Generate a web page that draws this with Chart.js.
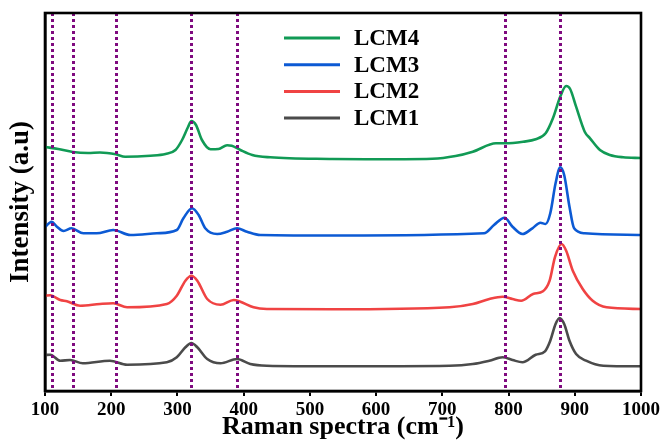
<!DOCTYPE html>
<html>
<head>
<meta charset="utf-8">
<script src="https://cdn.jsdelivr.net/npm/chart.js@4.4.1/dist/chart.umd.min.js"></script>
<style>
  html, body { margin: 0; padding: 0; background: #fff; }
  #wrap { width: 664px; height: 448px; }
</style>
</head>
<body>
<div id="wrap"><canvas id="ramanChart" width="664" height="448"></canvas></div>
<script>
// Raman shift (cm-1) and intensity (a.u., stacked offsets) for each sample
const lcm4Shift = [100, 120, 142, 165, 183, 207, 221, 259, 282, 297, 307, 316, 321, 328, 337, 350, 362, 375, 382, 395, 413, 440, 534, 584, 685, 720, 746, 781, 795, 822, 841, 856, 867, 878, 887, 893, 902, 915, 923, 938, 953, 973, 1000];
const lcm4Intensity = [244, 242, 239, 238, 238.5, 236.7, 234.3, 235.3, 237, 241, 251, 264, 270, 266, 251, 241.7, 242, 245.7, 245.3, 241, 236, 233.7, 232, 231.7, 232.3, 235, 239.3, 247.7, 247.7, 249.3, 251.7, 257.7, 272.7, 294.3, 305, 302, 284.3, 259.3, 252.7, 241, 236, 233.7, 233];

const lcm3Shift = [100, 110, 118, 128, 140, 158, 178, 203, 229, 269, 299, 309, 322, 332, 342, 360, 375, 390, 405, 425, 546, 763, 778, 794, 806, 821, 836, 848, 856, 863, 871, 878, 884, 892, 899, 915, 1000];
const lcm3Intensity = [164, 169.3, 164.3, 160, 162.7, 157.7, 157.7, 161, 156, 157.7, 161, 172.7, 182.7, 176, 162.7, 157, 159.3, 162.7, 159.3, 156, 155.5, 157.7, 166, 173.3, 164.3, 157, 162.7, 168.3, 167, 177.7, 207.7, 223.7, 216, 184.3, 162.7, 157.7, 156];

const lcm2Shift = [100, 108, 123, 133, 153, 183, 203, 224, 284, 299, 312, 321, 330, 345, 365, 385, 395, 415, 435, 534, 711, 746, 771, 791, 806, 819, 837, 852, 862, 870, 880, 887, 897, 912, 927, 948, 1000];
const lcm2Intensity = [95.3, 95.7, 91, 89.7, 85.3, 87, 87.7, 83.7, 87, 95.3, 110.3, 115.3, 110.3, 92, 86.3, 91, 89.3, 83.7, 82, 81.7, 83.7, 87, 92, 94.3, 92, 90.3, 97, 99.7, 110.3, 133.7, 147, 140.3, 120.3, 102, 90.3, 83.7, 82];

const lcm1Shift = [100, 108, 123, 138, 157, 198, 224, 284, 299, 312, 321, 330, 345, 365, 390, 410, 435, 534, 711, 746, 771, 791, 806, 821, 841, 855, 863, 871, 877, 884, 892, 902, 917, 943, 1000];
const lcm1Intensity = [36, 36.3, 30.3, 31, 27.7, 30.3, 26.3, 28.7, 33.7, 43.7, 48, 43.7, 32, 27.7, 32, 27, 25.3, 24.7, 25.3, 27, 30.3, 33.7, 31, 28.7, 36.3, 39.7, 50.3, 67, 73, 67, 50.3, 37, 30.3, 25.3, 24.7];

// band positions marked with dotted guide lines
const peakPositions = [110, 142, 207, 321, 390, 795, 878];

const serif = "'Times New Roman', 'Liberation Serif', serif";

function toPoints(xs, ys) {
    return xs.map((x, i) => ({ x: x, y: ys[i] }));
}

function series(label, xs, ys, color) {
    return {
        label: label,
        data: toPoints(xs, ys),
        borderColor: color,
        backgroundColor: color,
        borderWidth: 2.6,
        pointRadius: 0,
        cubicInterpolationMode: 'monotone',
        fill: false
    };
}

// dotted purple verticals at the band positions
const peakLines = {
    id: 'peakLines',
    afterDatasetsDraw(chart) {
        const { ctx, chartArea, scales } = chart;
        ctx.save();
        ctx.strokeStyle = '#7f0a7f';
        ctx.lineWidth = 3;
        ctx.setLineDash([3, 3]);
        peakPositions.forEach(p => {
            const x = Math.round(scales.x.getPixelForValue(p)) + 0.5;
            ctx.beginPath();
            ctx.moveTo(x, chartArea.top);
            ctx.lineTo(x, chartArea.bottom);
            ctx.stroke();
        });
        ctx.restore();
    }
};

// closed black frame around the plot
const frame = {
    id: 'frame',
    afterDraw(chart) {
        const { ctx, chartArea } = chart;
        ctx.save();
        ctx.strokeStyle = '#000';
        ctx.lineWidth = 2.6;
        ctx.strokeRect(chartArea.left, chartArea.top, chartArea.right - chartArea.left, chartArea.bottom - chartArea.top);
        ctx.restore();
    }
};

// legend stacked inside the plot, near the top centre
const innerLegend = {
    id: 'innerLegend',
    afterDraw(chart) {
        const { ctx } = chart;
        ctx.save();
        ctx.font = 'bold 23px ' + serif;
        ctx.textBaseline = 'middle';
        chart.data.datasets.forEach((ds, i) => {
            const y = 38 + i * 26.7;
            ctx.strokeStyle = ds.borderColor;
            ctx.lineWidth = 3;
            ctx.beginPath();
            ctx.moveTo(284, y);
            ctx.lineTo(340, y);
            ctx.stroke();
            ctx.fillStyle = '#000';
            ctx.fillText(ds.label, 354, y + 1);
        });
        ctx.restore();
    }
};

const ctx = document.getElementById('ramanChart').getContext('2d');
const ramanChart = new Chart(ctx, {
    type: 'line',
    data: {
        datasets: [
            series('LCM4', lcm4Shift, lcm4Intensity, '#119a55'),
            series('LCM3', lcm3Shift, lcm3Intensity, '#0c5ad4'),
            series('LCM2', lcm2Shift, lcm2Intensity, '#f04343'),
            series('LCM1', lcm1Shift, lcm1Intensity, '#4b4b4b')
        ]
    },
    options: {
        responsive: false,
        animation: false,
        layout: { padding: { top: 13, right: 23, left: 5, bottom: 0 } },
        plugins: {
            legend: { display: false },
            tooltip: { enabled: false }
        },
        scales: {
            x: {
                type: 'linear',
                min: 100,
                max: 1000,
                afterFit(scale) { scale.height = 57; },
                border: { display: true, color: '#000', width: 2.6 },
                grid: { display: true, drawOnChartArea: false, drawTicks: true, tickLength: 5, color: '#000', lineWidth: 2 },
                ticks: {
                    stepSize: 100,
                    autoSkip: false,
                    maxRotation: 0,
                    padding: 3,
                    color: '#000',
                    font: { family: serif, size: 19, weight: 'bold' },
                    callback: value => String(value)
                },
                title: {
                    display: true,
                    text: 'Raman spectra (cm\u207B\u00B9)',
                    color: '#000',
                    padding: { top: 0, bottom: 5 },
                    font: { family: serif, size: 26, weight: 'bold' }
                }
            },
            y: {
                min: 0,
                max: 378,
                afterFit(scale) { scale.width = 40; },
                border: { display: true, color: '#000', width: 2.6 },
                grid: { display: false },
                ticks: { display: false },
                title: {
                    display: true,
                    text: 'Intensity (a.u)',
                    color: '#000',
                    padding: 0,
                    font: { family: serif, size: 27, weight: 'bold' }
                }
            }
        }
    },
    plugins: [peakLines, frame, innerLegend]
});
</script>
</body>
</html>
